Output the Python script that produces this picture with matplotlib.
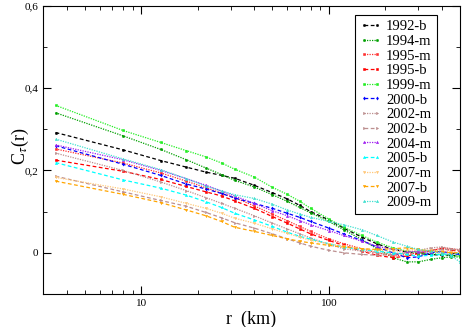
import matplotlib.pyplot as plt
from matplotlib.ticker import FixedLocator, FuncFormatter, LogLocator, NullFormatter, MultipleLocator

plt.rcParams["font.family"] = ["Liberation Serif", "DejaVu Serif"]
plt.rcParams["mathtext.fontset"] = "stix"

# distance bins (km)
r_km = [3.5, 8, 12.7, 17.4, 22.1, 26.8, 31.5, 40, 50, 60, 70, 80, 100,
        120, 150, 180, 220, 260, 300, 350, 400, 450, 500]

c_1992b = [0.292, 0.250, 0.224, 0.208, 0.196, 0.188, 0.181, 0.164, 0.146, 0.131, 0.115, 0.100, 0.080,
           0.060, 0.038, 0.022, 0.008, 0.002, -0.002, -0.004, -0.006, -0.006, -0.008]
c_1994m = [0.340, 0.284, 0.251, 0.226, 0.206, 0.190, 0.176, 0.160, 0.141, 0.125, 0.110, 0.097, 0.076,
           0.056, 0.032, 0.010, -0.012, -0.022, -0.022, -0.016, -0.012, -0.010, -0.010]
c_1995m = [0.252, 0.218, 0.194, 0.174, 0.158, 0.145, 0.134, 0.114, 0.094, 0.078, 0.064, 0.052, 0.034,
           0.022, 0.010, 0.000, -0.008, -0.004, 0.000, 0.004, 0.012, 0.010, 0.006]
c_1995b = [0.225, 0.198, 0.178, 0.161, 0.148, 0.138, 0.126, 0.108, 0.088, 0.072, 0.058, 0.046, 0.030,
           0.018, 0.004, -0.006, -0.012, -0.008, -0.002, 0.006, 0.010, 0.006, 0.004]
c_1999m = [0.358, 0.297, 0.268, 0.248, 0.233, 0.218, 0.203, 0.184, 0.159, 0.142, 0.125, 0.108, 0.082,
           0.062, 0.042, 0.026, 0.012, 0.004, 0.000, -0.002, -0.004, -0.006, -0.008]
c_2000b = [0.260, 0.215, 0.188, 0.167, 0.155, 0.144, 0.133, 0.120, 0.108, 0.096, 0.086, 0.076, 0.060,
           0.046, 0.030, 0.014, 0.000, -0.012, -0.010, 0.000, 0.004, -0.002, -0.004]
c_2002m = [0.242, 0.200, 0.172, 0.151, 0.134, 0.120, 0.108, 0.090, 0.072, 0.058, 0.046, 0.036, 0.020,
           0.010, 0.004, 0.000, -0.002, 0.000, 0.006, 0.012, 0.014, 0.010, 0.008]
c_2002b = [0.186, 0.148, 0.127, 0.113, 0.098, 0.085, 0.073, 0.060, 0.046, 0.034, 0.024, 0.016, 0.006,
           0.000, -0.004, -0.006, -0.004, 0.000, 0.004, 0.006, 0.008, 0.008, 0.006]
c_2004m = [0.262, 0.226, 0.200, 0.180, 0.164, 0.150, 0.138, 0.120, 0.102, 0.090, 0.078, 0.068, 0.054,
           0.042, 0.028, 0.016, 0.008, 0.004, 0.002, 0.002, 0.000, 0.000, 0.000]
c_2005b = [0.219, 0.177, 0.157, 0.140, 0.124, 0.110, 0.096, 0.080, 0.064, 0.050, 0.040, 0.033, 0.022,
           0.014, 0.008, 0.004, 0.000, -0.004, -0.008, -0.006, -0.004, -0.002, 0.000]
c_2007m = [0.183, 0.155, 0.136, 0.120, 0.108, 0.096, 0.084, 0.072, 0.058, 0.047, 0.038, 0.030, 0.022,
           0.016, 0.010, 0.006, 0.004, 0.006, 0.008, 0.006, 0.004, 0.002, 0.000]
c_2007b = [0.174, 0.142, 0.122, 0.104, 0.090, 0.076, 0.062, 0.052, 0.042, 0.034, 0.028, 0.024, 0.018,
           0.014, 0.010, 0.008, 0.010, 0.012, 0.008, 0.004, 0.002, 0.000, 0.000]
c_2009m = [0.276, 0.228, 0.202, 0.180, 0.162, 0.150, 0.141, 0.132, 0.118, 0.104, 0.094, 0.086, 0.076,
           0.068, 0.056, 0.042, 0.026, 0.016, 0.008, 0.004, 0.000, -0.008, -0.022]

series = [
    ("1992-b", c_1992b, "#000000", (0, (3, 2)), "o"),
    ("1994-m", c_1994m, "#00a000", (0, (1, 1)), "o"),
    ("1995-m", c_1995m, "#ff3030", (0, (1, 1)), "s"),
    ("1995-b", c_1995b, "#ff0000", (0, (3, 2)), "s"),
    ("1999-m", c_1999m, "#22ee22", (0, (1, 1)), "s"),
    ("2000-b", c_2000b, "#0000ff", (0, (3, 2)), "d"),
    ("2002-m", c_2002m, "#bc8f8f", (0, (1, 1)), ">"),
    ("2002-b", c_2002b, "#bc8f8f", (0, (3, 2)), ">"),
    ("2004-m", c_2004m, "#a020f0", (0, (1, 1)), "^"),
    ("2005-b", c_2005b, "#00ffff", (0, (3, 2)), "^"),
    ("2007-m", c_2007m, "#ffc87a", (0, (1, 1)), "v"),
    ("2007-b", c_2007b, "#ffa500", (0, (3, 2)), "v"),
    ("2009-m", c_2009m, "#40e0d0", (0, (1, 1)), "^"),
]

fig = plt.figure(figsize=(4.63, 3.27), dpi=100)
ax = fig.add_axes([0.093, 0.101, 0.9005, 0.8816])

for label, vals, color, ls, mk in series:
    ax.plot(r_km, vals, color=color, linestyle=ls, linewidth=0.9,
            marker=mk, markersize=1.6, markeredgewidth=0.4, label=label)

ax.set_xscale("log")
ax.set_xlim(3.0, 500)
ax.set_ylim(-0.1, 0.6)

ax.xaxis.set_major_locator(FixedLocator([10, 100]))
ax.xaxis.set_major_formatter(FuncFormatter(lambda v, p: f"{v:g}"))
ax.xaxis.set_minor_locator(LogLocator(base=10, subs=range(2, 10)))
ax.xaxis.set_minor_formatter(NullFormatter())
ax.yaxis.set_major_locator(MultipleLocator(0.2))
ax.yaxis.set_minor_locator(MultipleLocator(0.1))
ax.yaxis.set_major_formatter(FuncFormatter(lambda v, p: "0" if abs(v) < 1e-9 else f"{v:.1f}".replace(".", ",")))

ax.tick_params(which="both", direction="in", top=True, right=True, labelsize=8)
ax.tick_params(which="major", length=6)
ax.tick_params(which="minor", length=3)

ax.set_xlabel("r  (km)", fontsize=13, labelpad=2)
ax.set_ylabel(r"C$_\tau$(r)", fontsize=13)
ax.yaxis.set_label_coords(-0.03, 0.513)

leg = ax.legend(loc="upper right", bbox_to_anchor=(0.944, 0.968), borderaxespad=0,
                fontsize=10.5, labelspacing=0.1, handlelength=1.5, handletextpad=0.3,
                numpoints=2, fancybox=False, framealpha=1, borderpad=0.35)
leg.get_frame().set_edgecolor("black")
leg.get_frame().set_linewidth(0.8)

fig.savefig("out.png", dpi=100)
